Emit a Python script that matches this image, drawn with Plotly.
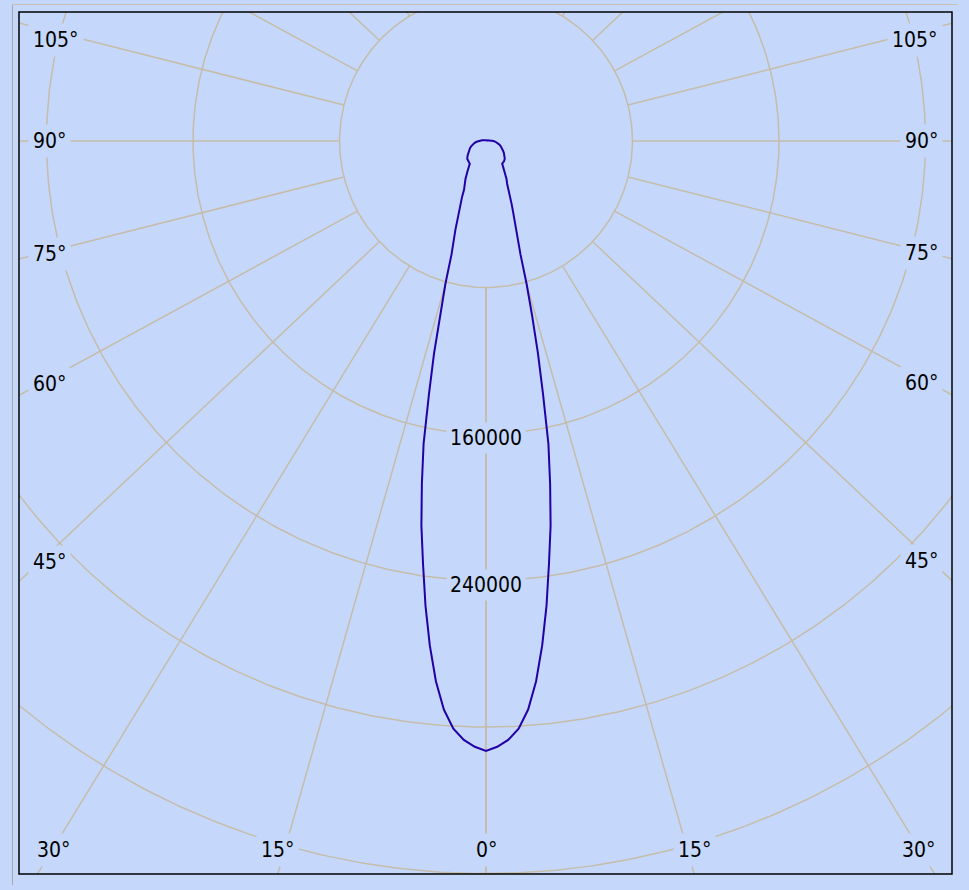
import numpy as np
import plotly.graph_objects as go

# ---------------- data ----------------
# vertical angle gamma (deg) and luminous intensity (cd), mirrored on both sides
gamma_deg = [0, 1, 2, 3, 4, 5, 6, 7, 8, 9, 10, 11, 12, 13, 14, 15, 16, 17, 18, 19,
             20, 21, 22, 23, 25, 27, 30, 32, 34, 36, 40, 45, 50, 55, 60, 65, 70,
             75, 80, 85, 90, 95, 100, 110, 120, 135, 150, 180]
intensity_cd = [353100, 350700, 346900, 340600, 329900, 313900, 293600, 271100,
                247100, 225500, 201700, 178600, 149700, 126100, 104000, 85700,
                68300, 60100, 54100, 47500, 42900, 39000, 34900, 30700, 27300,
                24700, 20200, 18300, 15800, 15600, 15300, 14500, 13100, 11900,
                10600, 9600, 8500, 7400, 6300, 5200, 4100, 3000, 2200, 1400, 800,
                500, 400, 400]

ring_values = [80000, 160000, 240000, 320000, 400000]
ring_labels = [160000, 240000]
spoke_angles = [0, 15, 30, 45, 60, 75, 90, 105, 120, 135, 150, 165, 180]
side_label_angles = [45, 60, 75, 90, 105]
bottom_label_angles = [0, 15, 30]

# ---------------- styling / geometry ----------------
BG = "#C5D8FC"
GRID = "#C5BCA9"
CURVE = "#2100A6"
FONT = dict(family="DejaVu Sans Condensed, Liberation Sans, sans-serif", size=21,
            color="#000000")

W, H = 969, 890
ML, MR, MT, MB = 19, 17, 12, 16
PW, PH = W - ML - MR, H - MT - MB
CXP, CYP = 467, 129          # pole position inside the plot area (px from left / top)
S = 80000 / 146.5            # cd per pixel
K = 1.06                     # vertical aspect of the angular scale

def direction(theta_deg, side):
    t = np.radians(theta_deg)
    ux, uy = side * np.sin(t), -np.cos(t) / K
    n = np.hypot(ux, uy)
    return ux / n, uy / n

fig = go.Figure()

# rings
phi = np.linspace(0, 2 * np.pi, 721)
rx, ry = [], []
for R in ring_values:
    rx += list(R * np.cos(phi)) + [None]
    ry += list(R * np.sin(phi)) + [None]
fig.add_trace(go.Scatter(x=rx, y=ry, mode="lines", line=dict(color=GRID, width=1.5),
                         hoverinfo="skip"))

# spokes
sx, sy = [], []
for a in spoke_angles:
    for side in (-1, 1):
        ux, uy = direction(a, side)
        sx += [ring_values[0] * ux, 2e6 * ux, None]
        sy += [ring_values[0] * uy, 2e6 * uy, None]
fig.add_trace(go.Scatter(x=sx, y=sy, mode="lines", line=dict(color=GRID, width=1.5),
                         hoverinfo="skip"))

# intensity curve
g = np.radians(np.array(gamma_deg, dtype=float))
I = np.array(intensity_cd, dtype=float)
xr, yr = I * np.sin(g), -I * np.cos(g) / K
cx = list(-xr[::-1]) + list(xr[1:])
cy = list(yr[::-1]) + list(yr[1:])
fig.add_trace(go.Scatter(x=cx, y=cy, mode="lines", line=dict(color=CURVE, width=2),
                         hoverinfo="skip"))

annotations = []
# ring value labels on the 0 deg axis
for v in ring_labels:
    annotations.append(dict(x=0, y=-v, xref="x", yref="y", text=str(v), showarrow=False,
                            font=FONT, bgcolor=BG, borderpad=3, yshift=-4,
                            xanchor="center", yanchor="middle"))

# side angle labels
for a in side_label_angles:
    for side in (-1, 1):
        ux, uy = direction(a, side)
        xin = (CXP - 21) if side < 0 else (PW - CXP - 21)
        ypx = xin * (-uy) / abs(ux)               # px below pole
        ypx = max(ypx, 40 - MT - CYP)             # keep inside top
        if side < 0:
            xpos, xa = -(CXP - 9) * S, "left"
        else:
            xpos, xa = (PW - CXP - 9) * S, "right"
        annotations.append(dict(x=xpos, y=-ypx * S, xref="x", yref="y", text=f"{a}°",
                                showarrow=False, font=FONT, bgcolor=BG, borderpad=4,
                                xanchor=xa, yanchor="middle"))

# bottom angle labels
ybot = PH - CYP
for a in bottom_label_angles:
    sides = (1,) if a == 0 else (-1, 1)
    for side in sides:
        ux, uy = direction(a, side)
        xpx = ybot * ux / (-uy)
        if abs(xpx) + 18 > 450:
            xpx = 454 * np.sign(xpx)
            xa = "left" if side < 0 else "right"
        else:
            xa = "center"
        annotations.append(dict(x=xpx * S, y=-(ybot - 24) * S, xref="x", yref="y",
                                text=f"{a}°", showarrow=False, font=FONT, bgcolor=BG,
                                borderpad=4, xanchor=xa, yanchor="middle"))

shapes = [
    dict(type="rect", xref="paper", yref="paper", x0=0, y0=0, x1=1, y1=1,
         line=dict(color="#000000", width=1.5)),
    dict(type="line", xref="paper", yref="paper",
         x0=(12.5 - ML) / PW, x1=(12.5 - ML) / PW,
         y0=(PH + MT - 885) / PH, y1=(PH + MT - 4.5) / PH,
         line=dict(color="#A9A9A9", width=1)),
    dict(type="line", xref="paper", yref="paper",
         x0=(12.5 - ML) / PW, x1=(957 - ML) / PW,
         y0=(PH + MT - 4.5) / PH, y1=(PH + MT - 4.5) / PH,
         line=dict(color="#C9C0AE", width=1)),
]

fig.update_layout(
    width=W, height=H,
    margin=dict(l=ML, r=MR, t=MT, b=MB, pad=0),
    paper_bgcolor=BG, plot_bgcolor=BG,
    showlegend=False, hovermode=False,
    annotations=annotations, shapes=shapes,
)
fig.update_xaxes(range=[-CXP * S, (PW - CXP) * S], visible=False, fixedrange=True)
fig.update_yaxes(range=[-(PH - CYP) * S, CYP * S], visible=False, fixedrange=True)

fig.write_html(
    "out.html",
    config={"displayModeBar": False},
    post_script=f"document.body.style.margin='0';document.body.style.background='{BG}';",
)
